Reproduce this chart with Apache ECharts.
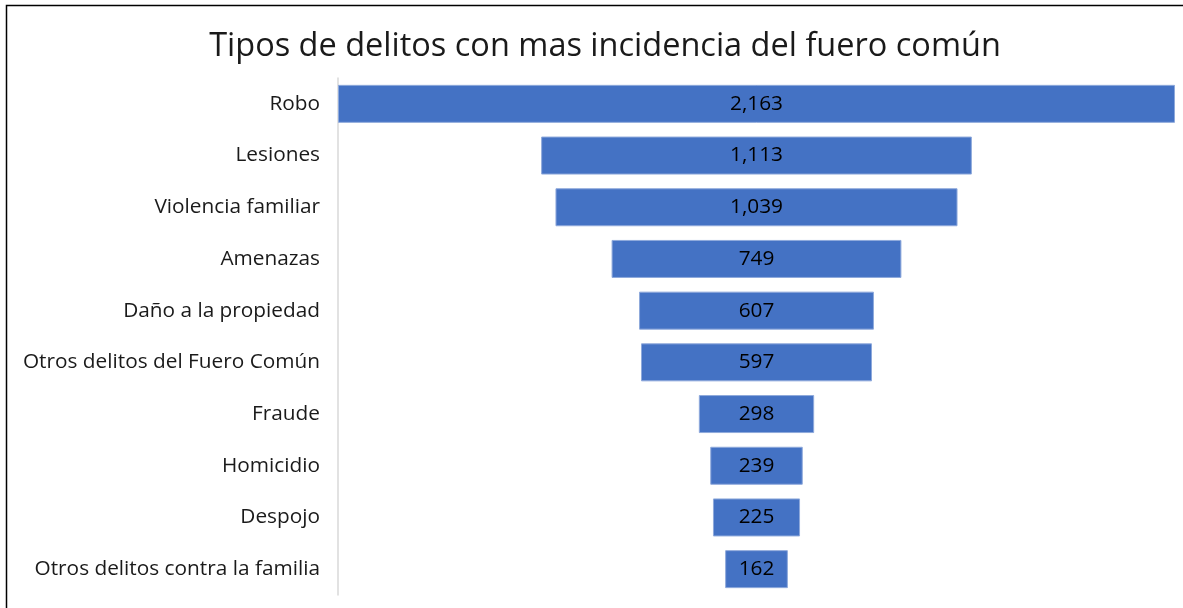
<!DOCTYPE html>
<html>
<head>
<meta charset="utf-8">
<script src="https://cdn.jsdelivr.net/npm/echarts@6/dist/echarts.min.js"></script>
<style>
  html, body { margin: 0; padding: 0; background: #ffffff; }
  #chart { width: 1183px; height: 608px; }
</style>
</head>
<body>
<div id="chart"></div>
<script>
// Delitos del fuero común, ordenados de mayor a menor incidencia
const categories = [
  'Robo',
  'Lesiones',
  'Violencia familiar',
  'Amenazas',
  'Daño a la propiedad',
  'Otros delitos del Fuero Común',
  'Fraude',
  'Homicidio',
  'Despojo',
  'Otros delitos contra la familia'
];
const values = [2163, 1113, 1039, 749, 607, 597, 298, 239, 225, 162];

const titleText = 'Tipos de delitos con mas incidencia del fuero común';
const FONT = '"Open Sans", Lato, sans-serif';

// Funnel: each bar is pushed right by half of what it lacks from the largest value,
// so every bar is centred on the same vertical line.
const maxValue = Math.max(...values);
const offsets = values.map(v => (maxValue - v) / 2);

const chart = echarts.init(document.getElementById('chart'), null, { renderer: 'canvas' });

chart.setOption({
  animation: false,
  backgroundColor: '#ffffff',
  title: {
    text: titleText,
    left: 600,
    textAlign: 'center',
    top: 25,
    textStyle: { fontFamily: FONT, fontSize: 32.5, fontWeight: 'normal', color: '#1a1a1a' }
  },
  graphic: [
    {
      type: 'polyline',
      shape: { points: [[6.5, 620], [6.5, 5.5], [1200, 5.5]] },
      style: { stroke: '#000000', lineWidth: 1.5, fill: null },
      silent: true
    }
  ],
  grid: { left: 338, right: 8, top: 78, bottom: 13 },
  xAxis: {
    type: 'value',
    min: 0,
    max: maxValue,
    show: false
  },
  yAxis: {
    type: 'category',
    data: categories,
    inverse: true,
    axisLine: { show: true, lineStyle: { color: '#d9d9d9', width: 1.5 } },
    axisTick: { show: false },
    axisLabel: { margin: 18, fontFamily: FONT, fontSize: 20.8, color: '#1a1a1a' }
  },
  series: [
    {
      name: 'offset',
      type: 'bar',
      stack: 'funnel',
      data: offsets,
      barWidth: 38,
      itemStyle: { color: 'rgba(0,0,0,0)' },
      silent: true
    },
    {
      name: 'Delitos',
      type: 'bar',
      stack: 'funnel',
      data: values,
      barWidth: 38,
      itemStyle: { color: '#4472c4', borderColor: '#8ea9db', borderWidth: 1 },
      label: {
        show: true,
        position: 'inside',
        fontFamily: FONT,
        fontSize: 20.8,
        color: '#000000',
        formatter: p => p.value.toLocaleString('en-US')
      }
    }
  ]
});
</script>
</body>
</html>
